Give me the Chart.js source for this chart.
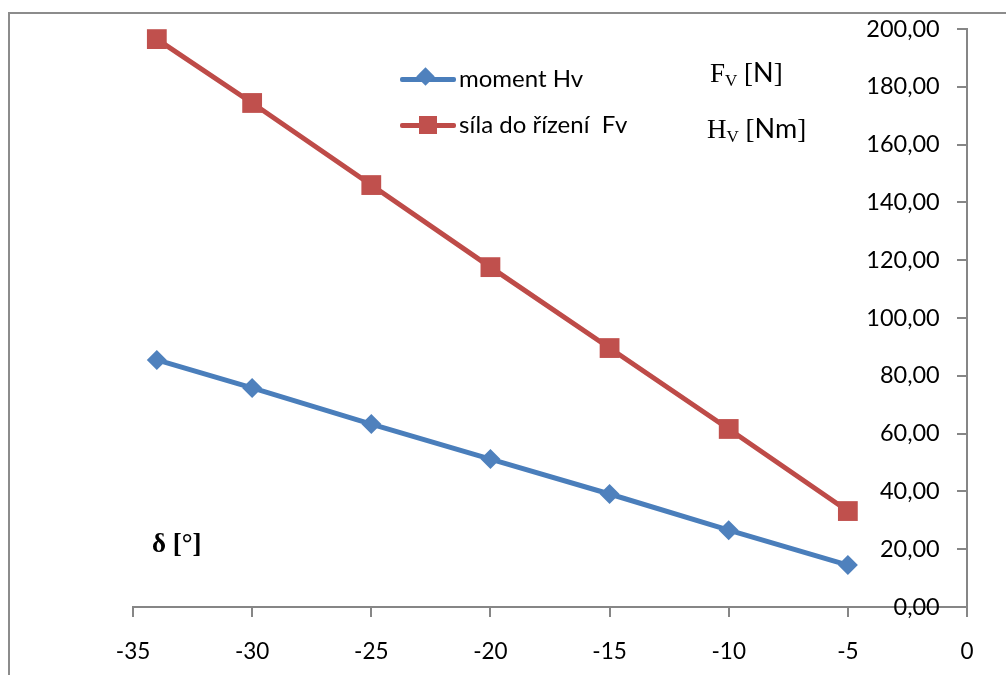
<!DOCTYPE html>
<html>
<head>
<meta charset="utf-8">
<script src="https://cdn.jsdelivr.net/npm/chart.js@4.4.1/dist/chart.umd.min.js"></script>
<style>
  body { margin: 0; background: #fff; }
  #wrap { position: relative; width: 1006px; height: 675px; overflow: hidden; }
  #frame { position: absolute; left: 8px; top: 12px; width: 1100px; height: 800px; border: 2px solid #8c8c8c; }
  canvas { position: absolute; left: 0; top: 0; }
  .lg { position: absolute; left: 400px; height: 20px; font-family: Lato, sans-serif; font-size: 24px; color: #000; white-space: pre; }
  .lg .ln { position: absolute; left: 0; top: 8px; width: 56px; height: 5px; border-radius: 2px; }
  .lg .mk { position: absolute; }
  .lg .tx { position: absolute; left: 59px; top: -6px; }
  .note { position: absolute; font-family: "Liberation Serif", serif; font-size: 27px; color: #000; white-space: pre; }
  .note sub { font-size: 17px; vertical-align: -4px; }
  .note .s { font-family: Lato, sans-serif; }
</style>
</head>
<body>
<div id="wrap">
  <div id="frame"></div>
  <canvas id="chart" width="1006" height="675"></canvas>
  <div class="note" style="left:710px; top:55px;">F<sub>V</sub> [<span class="s">N</span>]</div>
  <div class="note" style="left:707px; top:111px;">H<sub>V</sub> [<span class="s">Nm</span>]</div>
  <div class="note" style="left:152px; top:528px; font-weight:bold; font-size:27px;">δ [°]</div>
  <div id="legend"></div>
</div>
<script>
// x positions (steering angle) and the two series
const angles = [-34, -30, -25, -20, -15, -10, -5];
const momentHv = [85.5, 75.8, 63.3, 51.2, 39.1, 26.6, 14.5];
const silaFv = [196.5, 174.4, 146.0, 117.6, 89.6, 61.6, 33.2];
const seriesNames = ['moment Hv', 'síla do řízení  Fv'];
const xTicks = [-35, -30, -25, -20, -15, -10, -5, 0];
const yTicks = [0, 20, 40, 60, 80, 100, 120, 140, 160, 180, 200];

const blue = '#4a7ebb';
const red = '#be4b48';

function pts(vals) {
    return angles.map((a, i) => ({ x: a, y: vals[i] }));
}

const chart = new Chart(document.getElementById('chart'), {
    type: 'line',
    data: {
        datasets: [{
            label: seriesNames[0],
            data: pts(momentHv),
            borderColor: blue,
            backgroundColor: '#4f81bd',
            borderWidth: 5,
            pointStyle: 'rectRot',
            pointRadius: 10,
            pointBorderWidth: 0,
            tension: 0
        }, {
            label: seriesNames[1],
            data: pts(silaFv),
            borderColor: red,
            backgroundColor: '#c0504d',
            borderWidth: 5,
            pointStyle: 'rect',
            pointRadius: 14,
            pointBorderWidth: 0,
            tension: 0
        }]
    },
    options: {
        responsive: false,
        animation: false,
        layout: { padding: { left: 133, right: 39, top: 29, bottom: 68 } },
        plugins: { legend: { display: false }, tooltip: { enabled: false } },
        scales: {
            x: {
                type: 'linear',
                position: { y: 0 },
                min: xTicks[0],
                max: xTicks[xTicks.length - 1],
                afterBuildTicks: s => { s.ticks = xTicks.map(v => ({ value: v })); },
                grid: { drawOnChartArea: false, tickLength: 9, color: '#868686', lineWidth: 2 },
                border: { color: '#868686', width: 2 },
                ticks: { color: '#000', padding: 22, font: { family: 'Lato', size: 22.5 } }
            },
            y: {
                position: { x: 0 },
                min: yTicks[0],
                max: yTicks[yTicks.length - 1],
                afterBuildTicks: s => { s.ticks = yTicks.map(v => ({ value: v })); },
                grid: { drawOnChartArea: false, tickLength: 9, color: '#868686', lineWidth: 2 },
                border: { color: '#868686', width: 2 },
                ticks: {
                    color: '#000', font: { family: 'Lato', size: 23.5 },
                    // labels sit left of the axis; two figure spaces keep them off the tick marks
                    callback: v => v.toFixed(2).replace('.', ',') + '\u2007\u2007'
                }
            }
        }
    }
});

// legend drawn as html, inside the plot
const lg = document.getElementById('legend');
const rows = [
    { top: 69, color: blue, mk: 'left:19px; top:1px; width:13px; height:13px; transform:rotate(45deg); background:#4f81bd;' },
    { top: 115, color: red, mk: 'left:19px; top:1px; width:18px; height:18px; background:#c0504d;' }
];
chart.data.datasets.forEach((ds, i) => {
    const r = rows[i];
    const d = document.createElement('div');
    d.className = 'lg';
    d.style.top = r.top + 'px';
    d.innerHTML = '<div class="ln" style="background:' + r.color + '"></div>' +
        '<div class="mk" style="' + r.mk + '"></div>' +
        '<div class="tx"></div>';
    d.querySelector('.tx').textContent = ds.label;
    lg.appendChild(d);
});
</script>
</body>
</html>
